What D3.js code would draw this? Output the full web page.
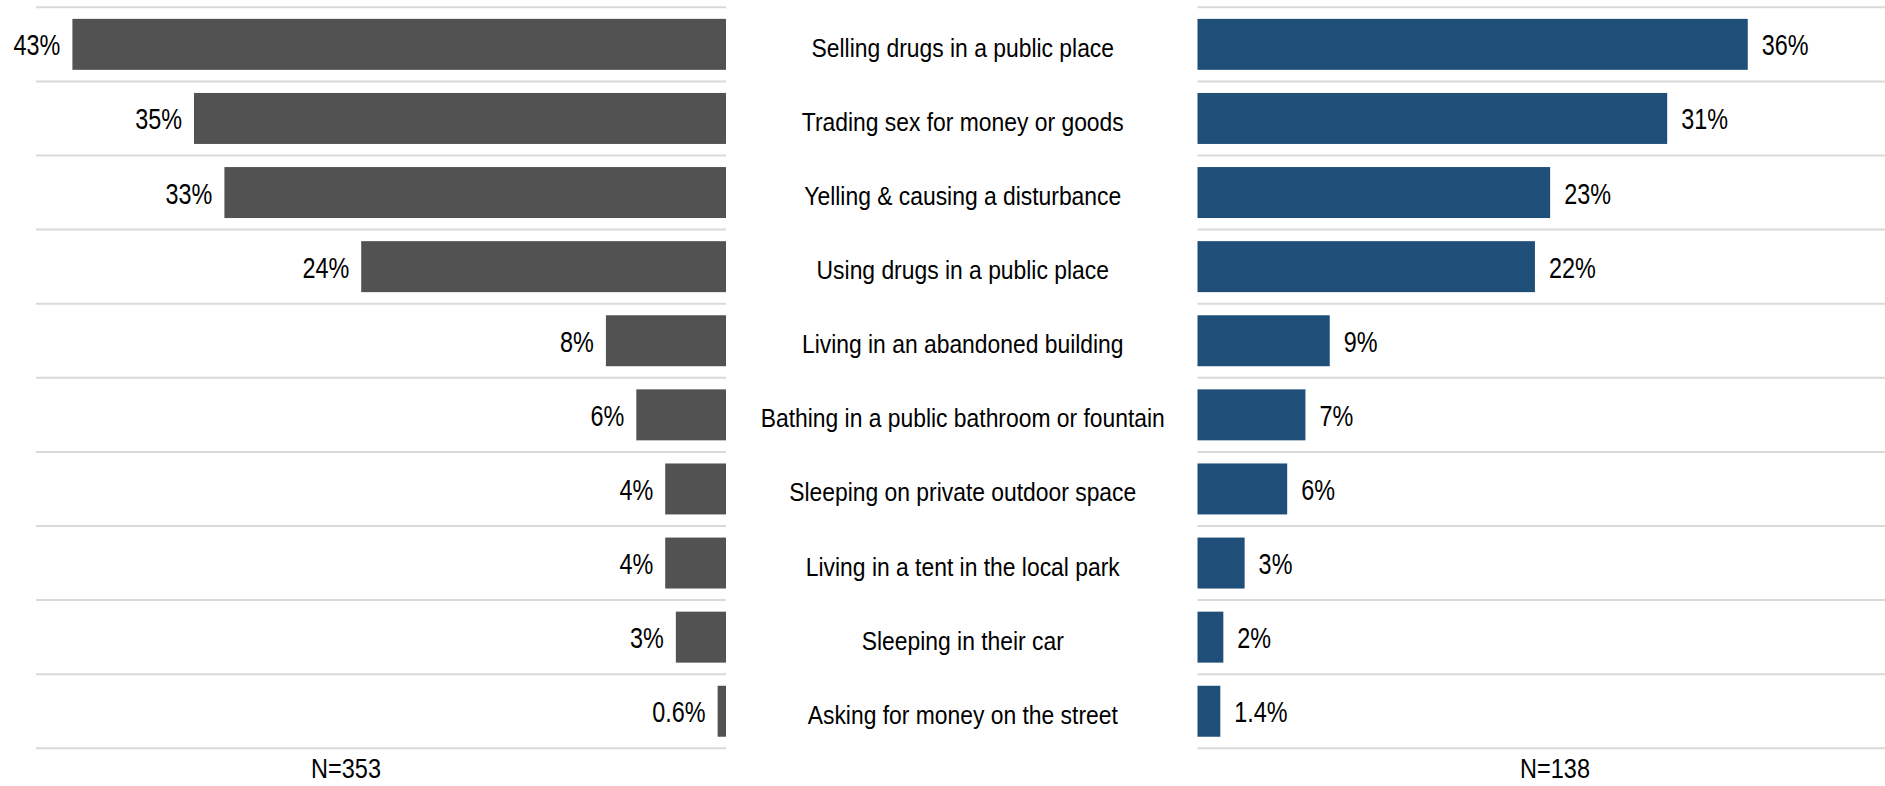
<!DOCTYPE html>
<html>
<head>
<meta charset="utf-8">
<script src="https://cdn.jsdelivr.net/npm/d3@7"></script>
<style>
  html, body { margin: 0; padding: 0; background: #ffffff; }
  svg { display: block; }
  text { font-family: "Liberation Sans", Arial, sans-serif; fill: #000; }
</style>
</head>
<body>
<svg id="chart" width="1885" height="786"></svg>
<script>
// ---- Data ----
const categories = [
  "Selling drugs in a public place",
  "Trading sex for money or goods",
  "Yelling & causing a disturbance",
  "Using drugs in a public place",
  "Living in an abandoned building",
  "Bathing in a public bathroom or fountain",
  "Sleeping on private outdoor space",
  "Living in a tent in the local park",
  "Sleeping in their car",
  "Asking for money on the street"
];
const leftValues  = [0.43, 0.35, 0.33, 0.24, 0.079, 0.059, 0.04, 0.04, 0.033, 0.0055];
const leftLabels  = ["43%", "35%", "33%", "24%", "8%", "6%", "4%", "4%", "3%", "0.6%"];
const rightValues = [0.362, 0.309, 0.232, 0.222, 0.087, 0.071, 0.059, 0.031, 0.017, 0.015];
const rightLabels = ["36%", "31%", "23%", "22%", "9%", "7%", "6%", "3%", "2%", "1.4%"];
const leftN  = "N=353";
const rightN = "N=138";

(function () {
// ---- Layout ----
const svg = d3.select("#chart");
const yTop = 7.3, yBottom = 748.3;
const leftX0 = 36, leftX1 = 726;        // left panel extent (bars grow leftward from leftX1)
const rightX0 = 1197.5, rightX1 = 1885; // right panel extent
const centerX = (leftX1 + rightX0) / 2;

const y = d3.scaleBand().domain(categories).range([yTop, yBottom]).paddingInner(0.312).paddingOuter(0.156);
const x = d3.scaleLinear().domain([0, 0.45]).range([0, 684]);
const step = y.step();

// gridlines
const gridYs = d3.range(categories.length + 1).map(i => yTop + i * step);
const grid = svg.append("g");
grid.selectAll("line.gl").data(gridYs).join("line").attr("class", "gl")
  .attr("x1", leftX0).attr("x2", leftX1)
  .attr("y1", d => d).attr("y2", d => d)
  .attr("stroke", "#d9d9d9").attr("stroke-width", 2);
grid.selectAll("line.gr").data(gridYs).join("line").attr("class", "gr")
  .attr("x1", rightX0).attr("x2", rightX1)
  .attr("y1", d => d).attr("y2", d => d)
  .attr("stroke", "#d9d9d9").attr("stroke-width", 2);

const leftData = categories.map((c, i) => ({c, v: leftValues[i], l: leftLabels[i]}));
const rightData = categories.map((c, i) => ({c, v: rightValues[i], l: rightLabels[i]}));

svg.append("g").selectAll("rect").data(leftData).join("rect")
  .attr("x", d => leftX1 - x(d.v))
  .attr("y", d => y(d.c))
  .attr("width", d => x(d.v))
  .attr("height", y.bandwidth())
  .attr("fill", "#525252");

svg.append("g").selectAll("rect").data(rightData).join("rect")
  .attr("x", rightX0)
  .attr("y", d => y(d.c))
  .attr("width", d => x(d.v))
  .attr("height", y.bandwidth())
  .attr("fill", "#1f4e79");

// value labels
svg.append("g").selectAll("text").data(leftData).join("text")
  .attr("transform", d => `translate(${leftX1 - x(d.v) - 12},${y(d.c) + y.bandwidth() / 2 + 11}) scale(0.78,1)`)
  .attr("text-anchor", "end")
  .style("font-size", "30px")
  .text(d => d.l);

svg.append("g").selectAll("text").data(rightData).join("text")
  .attr("transform", d => `translate(${rightX0 + x(d.v) + 14},${y(d.c) + y.bandwidth() / 2 + 11}) scale(0.78,1)`)
  .attr("text-anchor", "start")
  .style("font-size", "30px")
  .text(d => d.l);

// category labels
svg.append("g").selectAll("text").data(categories).join("text")
  .attr("transform", d => `translate(${centerX + 1},${y(d) + y.bandwidth() / 2 + 12.5}) scale(0.88,1)`)
  .attr("text-anchor", "middle")
  .style("font-size", "26px")
  .text(d => d);

// N labels
svg.append("text")
  .attr("transform", `translate(346,778) scale(0.84,1)`)
  .attr("text-anchor", "middle").style("font-size", "28px").text(leftN);
svg.append("text")
  .attr("transform", `translate(1555,778) scale(0.84,1)`)
  .attr("text-anchor", "middle").style("font-size", "28px").text(rightN);
})();
</script>
</body>
</html>
